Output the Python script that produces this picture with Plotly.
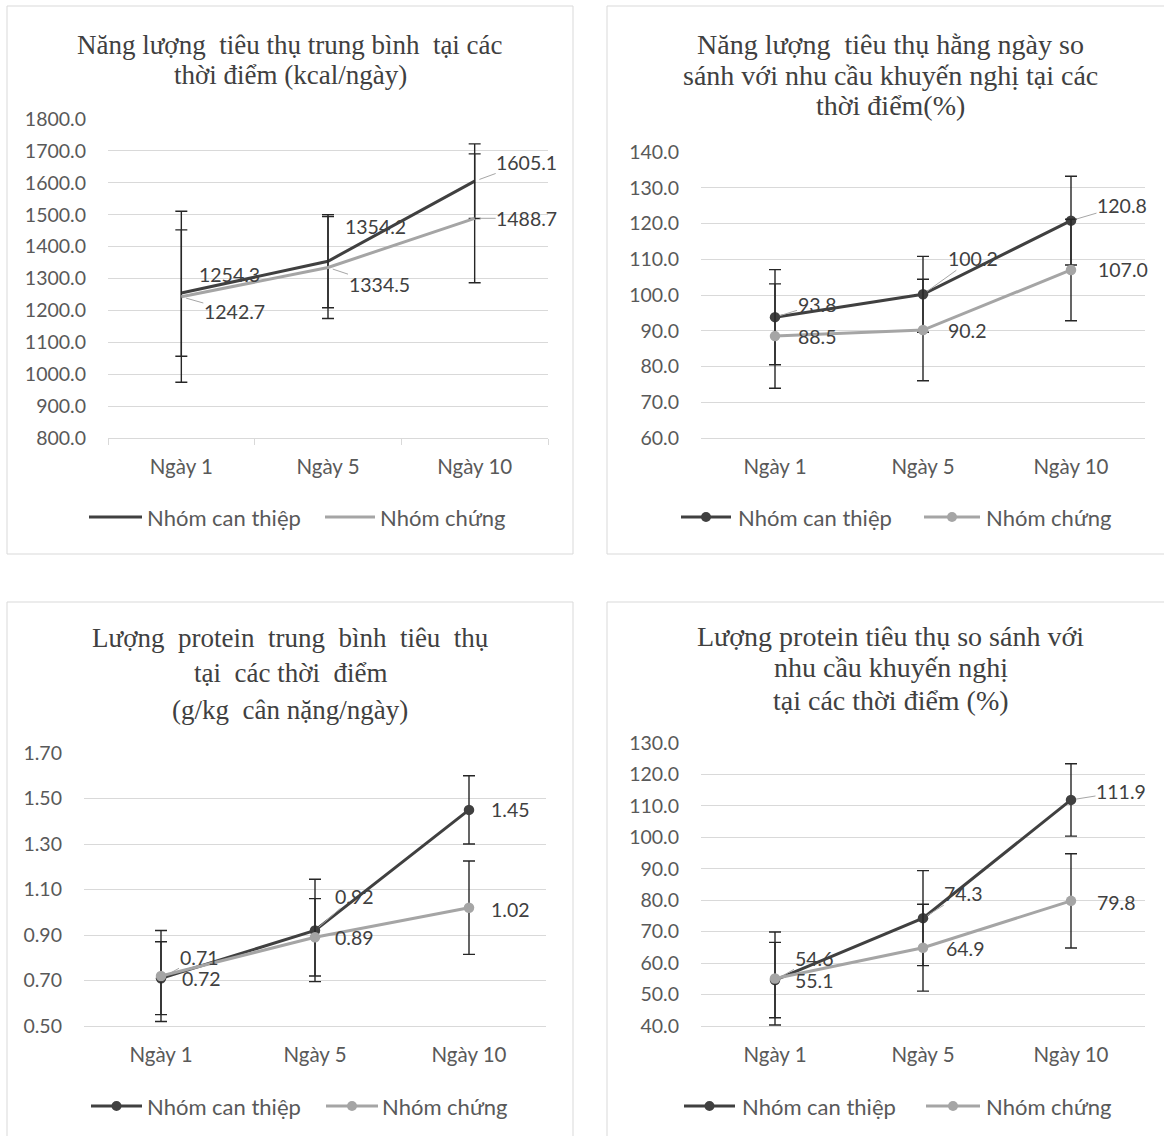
import plotly.graph_objects as go

# ---- data -------------------------------------------------------------
days = ["Ngày 1", "Ngày 5", "Ngày 10"]
series_names = ["Nhóm can thiệp", "Nhóm chứng"]

# mean energy intake (kcal/day) and SD
energy_int = [1254.3, 1354.2, 1605.1]
energy_int_sd = [198, 146, 117]
energy_ctl = [1242.7, 1334.5, 1488.7]
energy_ctl_sd = [268, 160, 202]

# energy intake as % of recommended need
energy_pct_int = [93.8, 100.2, 120.8]
energy_pct_int_sd = [13.3, 10.6, 12.4]
energy_pct_ctl = [88.5, 90.2, 107.0]
energy_pct_ctl_sd = [14.6, 14.2, 14.2]

# mean protein intake (g/kg body weight/day)
protein_int = [0.71, 0.92, 1.45]
protein_int_sd = [0.16, 0.225, 0.15]
protein_ctl = [0.72, 0.89, 1.02]
protein_ctl_sd = [0.20, 0.17, 0.205]

# protein intake as % of recommended need
protein_pct_int = [54.6, 74.3, 111.9]
protein_pct_int_sd = [12.0, 15.1, 11.5]
protein_pct_ctl = [55.1, 64.9, 79.8]
protein_pct_ctl_sd = [14.8, 13.8, 15.0]

# ---- page geometry (pixels) --------------------------------------------
W, H = 1164, 1136
C_INT, C_CTL = "#404040", "#A5A5A5"
C_GRID, C_TICK, C_TITLE = "#D9D9D9", "#595959", "#404040"
SANS, SERIF = "Lato", "Liberation Serif"


def px(x):
    return x / W


def py(y):
    return 1 - y / H


panels = [
    dict(
        values=(energy_int, energy_int_sd, energy_ctl, energy_ctl_sd),
        fmt=".1f", rng=[800, 1800], dtick=100, markers=False,
        frame=(7, 6, 573, 554), xdom=(108, 548), ydom=(119, 438),
        titles=[("Năng lượng\u00a0 tiêu thụ trung bình\u00a0 tại các", 45),
                ("thời điểm (kcal/ngày)", 75)],
        title_x=290, title_size=27, xticks=True,
        # legend: y, [line x0, line x1, text x] per series
        legend=(517, [(89, 142, 145), (325, 375, 378)]),
        # (dx, dy, leader) for each label: intervention then control
        lab_int=[(48, -19, False), (47, -35, False), (52, -19, True)],
        lab_ctl=[(53, 15, True), (51, 17, True), (52, 0, True)],
    ),
    dict(
        values=(energy_pct_int, energy_pct_int_sd, energy_pct_ctl, energy_pct_ctl_sd),
        fmt=".1f", rng=[60, 140], dtick=10, markers=True,
        frame=(607, 6, 1175, 554), xdom=(701, 1145), ydom=(152, 438),
        titles=[("Năng lượng\u00a0 tiêu thụ hằng ngày so", 45),
                ("sánh với nhu cầu khuyến nghị tại các", 75),
                ("thời điểm(%)", 105)],
        title_x=891, title_size=28, xticks=False,
        legend=(517, [(681, 731, 736), (924, 980, 984)]),
        lab_int=[(42, -13, True), (50, -36, True), (51, -15, True)],
        lab_ctl=[(42, 0, False), (44, 0, False), (52, 0, False)],
    ),
    dict(
        values=(protein_int, protein_int_sd, protein_ctl, protein_ctl_sd),
        fmt=".2f", rng=[0.5, 1.7], dtick=0.2, markers=True,
        frame=(7, 602, 573, 1145), xdom=(84, 546), ydom=(753, 1026),
        titles=[("Lượng\u00a0 protein\u00a0 trung\u00a0 bình\u00a0 tiêu\u00a0 thụ", 638),
                ("tại\u00a0 các thời\u00a0 điểm", 673),
                ("(g/kg\u00a0 cân nặng/ngày)", 710)],
        title_x=290, title_size=27, xticks=False,
        legend=(1106, [(91, 142, 145), (326, 378, 380)]),
        lab_int=[(38, -21, True), (39, -34, True), (41, 0, False)],
        lab_ctl=[(40, 3, False), (39, 0, False), (41, 2, False)],
    ),
    dict(
        values=(protein_pct_int, protein_pct_int_sd, protein_pct_ctl, protein_pct_ctl_sd),
        fmt=".1f", rng=[40, 130], dtick=10, markers=True,
        frame=(607, 602, 1175, 1145), xdom=(701, 1145), ydom=(743, 1026),
        titles=[("Lượng protein tiêu thụ so sánh với", 636),
                ("nhu cầu khuyến nghị", 667),
                ("tại các thời điểm (%)", 700)],
        title_x=891, title_size=28, xticks=False,
        legend=(1106, [(684, 735, 740), (926, 980, 984)]),
        lab_int=[(39, -22, True), (40, -25, True), (50, -8, True)],
        lab_ctl=[(39, 2, False), (42, 1, False), (45, 2, False)],
    ),
]

fig = go.Figure()
shapes, annotations = [], []
layout = dict(
    width=W, height=H,
    margin=dict(l=0, r=0, t=0, b=0, pad=0, autoexpand=False),
    paper_bgcolor="white", plot_bgcolor="white", showlegend=False,
    font=dict(family=SANS, color=C_TICK, size=19),
)

for i, p in enumerate(panels, start=1):
    sfx = "" if i == 1 else str(i)
    xa, ya = f"x{sfx}", f"y{sfx}"
    m_int, s_int, m_ctl, s_ctl = p["values"]
    colors = (C_INT, C_CTL)

    for name, vals, sds, color in (
        (series_names[0], m_int, s_int, C_INT),
        (series_names[1], m_ctl, s_ctl, C_CTL),
    ):
        fig.add_trace(go.Scatter(
            x=days, y=vals, name=name, xaxis=xa, yaxis=ya,
            mode="lines+markers" if p["markers"] else "lines",
            line=dict(color=color, width=3),
            marker=dict(color=color, size=10.5),
            error_y=dict(type="data", array=sds, visible=True,
                         color="#262626", thickness=1.4, width=6),
            cliponaxis=False, hoverinfo="skip",
        ))

    # data labels
    for vals, offs in ((m_int, p["lab_int"]), (m_ctl, p["lab_ctl"])):
        for d, v, (dx, dy, leader) in zip(days, vals, offs):
            txt = format(v, p["fmt"])
            common = dict(x=d, y=v, xref=xa, yref=ya, text=txt,
                          font=dict(family=SANS, size=19.5, color="#404040"))
            if leader:
                annotations.append(dict(
                    **common, showarrow=True, ax=dx, ay=dy, arrowhead=0,
                    arrowwidth=1, arrowcolor="#A6A6A6", standoff=5,
                    borderpad=0))
            else:
                annotations.append(dict(
                    **common, showarrow=False, xshift=dx, yshift=-dy))

    x0, x1 = p["xdom"]
    y0, y1 = p["ydom"]
    layout[f"xaxis{sfx}"] = dict(
        domain=[px(x0), px(x1)], anchor=ya, type="category",
        range=[-0.5, 2.5], showgrid=False, showline=True,
        linecolor=C_GRID, linewidth=1, automargin=False,
        ticks="outside" if p["xticks"] else "", tickson="boundaries",
        ticklen=6, tickcolor=C_GRID, ticklabelstandoff=10,
        tickfont=dict(family=SANS, size=20.5, color=C_TICK), fixedrange=True,
    )
    layout[f"yaxis{sfx}"] = dict(
        domain=[py(y1), py(y0)], anchor=xa, range=p["rng"],
        dtick=p["dtick"], tick0=p["rng"][0], tickformat=p["fmt"],
        showgrid=True, gridcolor=C_GRID, gridwidth=1, zeroline=False,
        showline=False, ticks="", ticklabelstandoff=21, automargin=False,
        tickfont=dict(family=SANS, size=19.5, color=C_TICK), fixedrange=True,
    )

    # legend drawn as line (+ marker) swatches with text beside them
    ly, items = p["legend"]
    for name, color, (lx0, lx1, tx) in zip(series_names, colors, items):
        shapes.append(dict(
            type="line", xref="paper", yref="paper",
            x0=px(lx0), x1=px(lx1), y0=py(ly), y1=py(ly),
            line=dict(color=color, width=3),
        ))
        if p["markers"]:
            cx = (lx0 + lx1) / 2
            shapes.append(dict(
                type="circle", xref="paper", yref="paper",
                x0=px(cx - 5), x1=px(cx + 5), y0=py(ly + 5), y1=py(ly - 5),
                line=dict(color=color, width=0), fillcolor=color,
            ))
        annotations.append(dict(
            x=px(tx), y=py(ly), xref="paper", yref="paper", text=name,
            showarrow=False, xanchor="left", yanchor="middle",
            font=dict(family=SANS, size=22, color=C_TICK),
        ))

    fx0, fy0, fx1, fy1 = p["frame"]
    shapes.append(dict(
        type="rect", xref="paper", yref="paper",
        x0=px(fx0), x1=px(fx1), y0=py(fy1), y1=py(fy0),
        line=dict(color=C_GRID, width=1), fillcolor="rgba(0,0,0,0)",
        layer="below",
    ))

    for text, ty in p["titles"]:
        annotations.append(dict(
            x=px(p["title_x"]), y=py(ty), xref="paper", yref="paper",
            text=text, showarrow=False, xanchor="center", yanchor="middle",
            font=dict(family=SERIF, size=p["title_size"], color=C_TITLE),
        ))

layout["shapes"] = shapes
layout["annotations"] = annotations
fig.update_layout(**layout)

fig.write_html(
    "out.html",
    config=dict(displayModeBar=False),
    post_script="document.body.style.margin='0';"
                "document.body.style.overflow='hidden';",
)
